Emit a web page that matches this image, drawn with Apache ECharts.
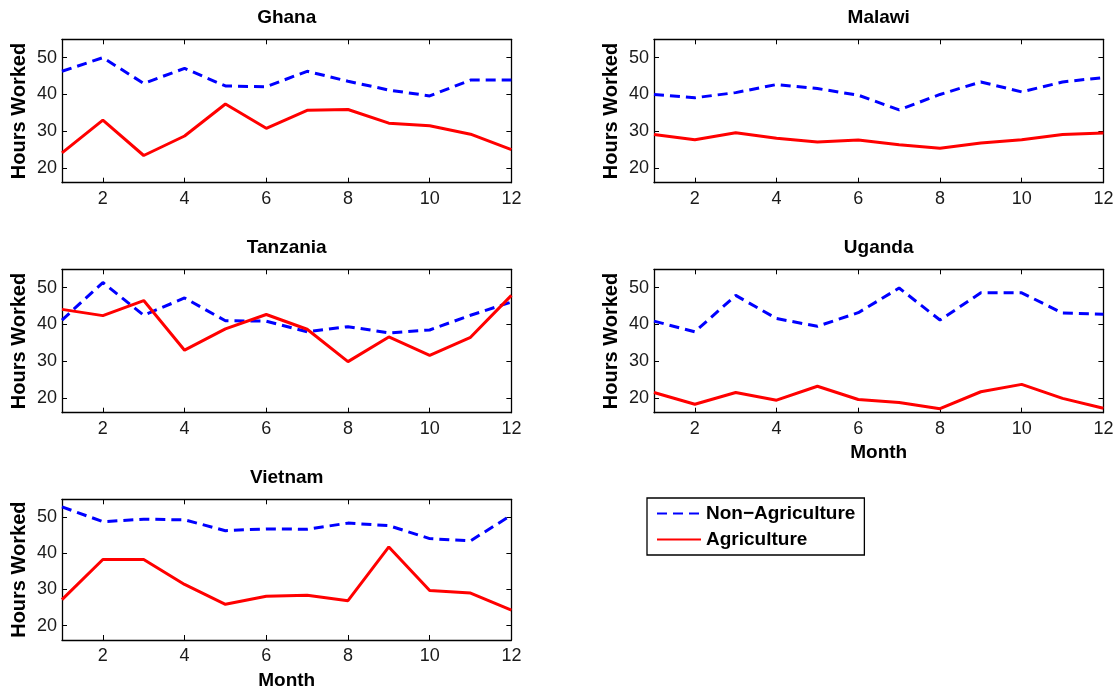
<!DOCTYPE html>
<html>
<head>
<meta charset="utf-8">
<title>Hours Worked by Month</title>
<script src="https://cdn.jsdelivr.net/npm/echarts@6/dist/echarts.min.js"></script>
<style>
  html, body { margin: 0; padding: 0; background: #ffffff; }
  #chart { width: 1118px; height: 691px; }
</style>
</head>
<body>
<div id="chart"></div>
<script>
// Months on the horizontal axis
const months = [1, 2, 3, 4, 5, 6, 7, 8, 9, 10, 11, 12];
const monthTicks = [2, 4, 6, 8, 10, 12];
const hourTicks = [20, 30, 40, 50];

const countries = ['Ghana', 'Malawi', 'Tanzania', 'Uganda', 'Vietnam'];

// Average weekly hours worked, non-agricultural and agricultural activities
const ghanaNonAg    = [46.3, 50.0, 43.0, 47.1, 42.3, 42.1, 46.3, 43.6, 41.2, 39.6, 43.9, 43.9];
const ghanaAg       = [24.1, 33.0, 23.4, 28.7, 37.4, 30.8, 35.7, 35.9, 32.2, 31.5, 29.2, 25.0];
const malawiNonAg   = [40.0, 39.1, 40.5, 42.7, 41.6, 39.8, 35.8, 40.0, 43.4, 40.7, 43.4, 44.6];
const malawiAg      = [29.1, 27.7, 29.6, 28.1, 27.1, 27.6, 26.3, 25.4, 26.8, 27.7, 29.1, 29.5];
const tanzaniaNonAg = [41.2, 51.4, 42.5, 47.2, 41.0, 40.9, 38.0, 39.4, 37.7, 38.5, 42.5, 46.1];
const tanzaniaAg    = [44.1, 42.4, 46.5, 33.0, 38.8, 42.7, 38.7, 29.9, 36.6, 31.6, 36.5, 47.9];
const ugandaNonAg   = [40.9, 38.0, 47.9, 41.6, 39.5, 43.2, 49.9, 41.2, 48.6, 48.6, 43.1, 42.8];
const ugandaAg      = [21.5, 18.3, 21.5, 19.4, 23.2, 19.6, 18.8, 17.1, 21.7, 23.7, 19.9, 17.2];
const vietnamNonAg  = [52.9, 48.8, 49.5, 49.3, 46.3, 46.8, 46.7, 48.4, 47.7, 44.1, 43.5, 50.6];
const vietnamAg     = [27.2, 38.3, 38.3, 31.4, 25.9, 28.1, 28.4, 26.9, 41.8, 29.7, 29.0, 24.3];

const nonAgSeries = [ghanaNonAg, malawiNonAg, tanzaniaNonAg, ugandaNonAg, vietnamNonAg];
const agSeries    = [ghanaAg, malawiAg, tanzaniaAg, ugandaAg, vietnamAg];

const NON_AG = 'Non\u2212Agriculture';
const AG = 'Agriculture';

// Panel placement (3 rows x 2 columns, last cell holds the legend)
const colLeft = [62, 654];
const rowTop = [39.3, 269.3, 499.3];
const panelW = 449.4;
const panelH = 143.4;
const monthLabelPanels = [3, 4];

const FONT = 'Liberation Sans, Arial, Helvetica, sans-serif';
const INK = '#000000';

const grids = [], xAxes = [], yAxes = [], titles = [], series = [];

countries.forEach((name, i) => {
  const col = i % 2, row = Math.floor(i / 2);
  const left = colLeft[col], top = rowTop[row];
  grids.push({ left: left, top: top, width: panelW, height: panelH, containLabel: false });

  titles.push({
    text: name,
    left: left + panelW / 2,
    top: top - 31,
    textAlign: 'center',
    padding: 0,
    textStyle: { fontFamily: FONT, fontSize: 19, fontWeight: 'bold', color: INK }
  });

  const tickCommon = { show: true, inside: true, length: 5, lineStyle: { color: INK, width: 1 } };
  // bottom axis (labelled)
  xAxes.push({
    type: 'value', gridIndex: i, position: 'bottom', min: 1, max: 12,
    splitLine: { show: false },
    axisLine: { show: true, onZero: false, lineStyle: { color: INK, width: 1.3 } },
    axisTick: Object.assign({ customValues: monthTicks }, tickCommon),
    axisLabel: { customValues: monthTicks, margin: 7, fontFamily: FONT, fontSize: 18, color: '#1a1a1a' },
    name: monthLabelPanels.includes(i) ? 'Month' : '',
    nameLocation: 'middle', nameGap: 31,
    nameTextStyle: { fontFamily: FONT, fontSize: 19, fontWeight: 'bold', color: INK }
  });
  // top mirror axis
  xAxes.push({
    type: 'value', gridIndex: i, position: 'top', min: 1, max: 12,
    splitLine: { show: false },
    axisLine: { show: true, onZero: false, lineStyle: { color: INK, width: 1.3 } },
    axisTick: Object.assign({ customValues: monthTicks }, tickCommon),
    axisLabel: { show: false }
  });
  // left axis (labelled)
  yAxes.push({
    type: 'value', gridIndex: i, position: 'left', min: 16, max: 55,
    splitLine: { show: false },
    axisLine: { show: true, onZero: false, lineStyle: { color: INK, width: 1.3 } },
    axisTick: Object.assign({ customValues: hourTicks }, tickCommon),
    axisLabel: { customValues: hourTicks, margin: 5, fontFamily: FONT, fontSize: 18, color: '#1a1a1a' },
    name: 'Hours Worked', nameLocation: 'middle', nameGap: 33,
    nameTextStyle: { fontFamily: FONT, fontSize: 20, fontWeight: 'bold', color: INK }
  });
  // right mirror axis
  yAxes.push({
    type: 'value', gridIndex: i, position: 'right', min: 16, max: 55,
    splitLine: { show: false },
    axisLine: { show: true, onZero: false, lineStyle: { color: INK, width: 1.3 } },
    axisTick: Object.assign({ customValues: hourTicks }, tickCommon),
    axisLabel: { show: false }
  });

  series.push({
    name: NON_AG, type: 'line', xAxisIndex: 2 * i, yAxisIndex: 2 * i,
    data: months.map((m, j) => [m, nonAgSeries[i][j]]),
    symbol: 'none', clip: true, animation: false,
    lineStyle: { color: '#0000ff', width: 3, type: [10, 6] },
    itemStyle: { color: '#0000ff' }
  });
  series.push({
    name: AG, type: 'line', xAxisIndex: 2 * i, yAxisIndex: 2 * i,
    data: months.map((m, j) => [m, agSeries[i][j]]),
    symbol: 'none', clip: true, animation: false,
    lineStyle: { color: '#ff0000', width: 3, type: 'solid' },
    itemStyle: { color: '#ff0000' }
  });
});

const chart = echarts.init(document.getElementById('chart'), null, { renderer: 'canvas' });
chart.setOption({
  backgroundColor: '#ffffff',
  animation: false,
  title: titles,
  grid: grids,
  xAxis: xAxes,
  yAxis: yAxes,
  legend: {
    data: [NON_AG, AG],
    orient: 'vertical',
    left: 647, top: 498,
    padding: [6, 9, 6, 9],
    itemWidth: 44, itemHeight: 14, itemGap: 7,
    borderColor: INK, borderWidth: 1.3, backgroundColor: '#ffffff',
    selectedMode: false,
    // line sample only, no marker dot
    itemStyle: { opacity: 0 },
    textStyle: { fontFamily: FONT, fontSize: 19, fontWeight: 'bold', color: INK, lineHeight: 19 }
  },
  series: series
});
</script>
</body>
</html>
